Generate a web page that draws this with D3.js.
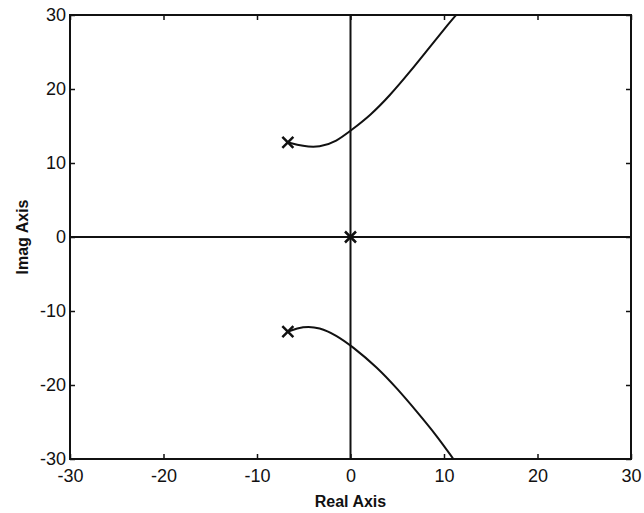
<!DOCTYPE html>
<html>
<head>
<meta charset="utf-8">
<script src="https://cdn.jsdelivr.net/npm/d3@7"></script>
<style>
  body { margin: 0; background: #fff; }
</style>
</head>
<body>
<script>
'use strict';

// axis ticks
const xTicks = [-30, -20, -10, 0, 10, 20, 30];
const yTicks = [-30, -20, -10, 0, 10, 20, 30];

// open-loop poles [re, im]
const poles = [[-6.7, 12.8], [0, 0], [-6.7, -12.8]];

// root locus branches [re, im]
const upperBranch = [
  [-6.7, 12.8], [-5.1, 12.25], [-3.3, 12.1], [-1.5, 12.9], [0.1, 14.45],
  [2.1, 16.4], [4.2, 19.1], [6.35, 22.3], [8.5, 25.7], [10.65, 29.05], [11.3, 30]
];
const lowerBranch = [
  [-6.7, -12.8], [-5.1, -12.05], [-3.3, -12.2], [-1.5, -13.3], [0.1, -14.7],
  [2.85, -17.6], [5.0, -20.5], [7.1, -23.6], [9.25, -26.9], [11.0, -30]
];

(function() {
  const width = 644, height = 513;
  const pLeft = 70, pRight = 631, pTop = 15, pBottom = 459;

  const svg = d3.select('body')
    .append('svg')
    .attr('width', width)
    .attr('height', height)
    .style('font-family', 'Arial, "Liberation Sans", sans-serif');

  const xScale = d3.scaleLinear().domain([-30, 30]).range([pLeft, pRight]);
  const yScale = d3.scaleLinear().domain([-30, 30]).range([pBottom, pTop]);

  // plain hyphen for negatives, as in the original
  const fmt = d => String(d);

  // ticks pointing inward on all four sides
  const tickLen = 5;
  svg.append('g').attr('transform', `translate(0,${pBottom})`)
    .call(d3.axisBottom(xScale).tickValues(xTicks).tickFormat(fmt).tickSizeInner(-tickLen).tickSizeOuter(0).tickPadding(10));
  svg.append('g').attr('transform', `translate(0,${pTop})`)
    .call(d3.axisTop(xScale).tickValues(xTicks).tickSizeInner(-tickLen).tickSizeOuter(0).tickFormat(''));
  svg.append('g').attr('transform', `translate(${pLeft},0)`)
    .call(d3.axisLeft(yScale).tickValues(yTicks).tickFormat(fmt).tickSizeInner(-tickLen).tickSizeOuter(0).tickPadding(4));
  svg.append('g').attr('transform', `translate(${pRight},0)`)
    .call(d3.axisRight(yScale).tickValues(yTicks).tickSizeInner(-tickLen).tickSizeOuter(0).tickFormat(''));

  svg.selectAll('.domain').remove();
  svg.selectAll('.tick line').attr('stroke', '#111').attr('stroke-width', 1.5);
  svg.selectAll('.tick text')
    .attr('fill', '#111')
    .style('font-size', '18px')
    .style('font-family', 'Arial, "Liberation Sans", sans-serif');

  // frame
  svg.append('rect')
    .attr('x', pLeft).attr('y', pTop)
    .attr('width', pRight - pLeft).attr('height', pBottom - pTop)
    .attr('fill', 'none').attr('stroke', '#111').attr('stroke-width', 2);

  // real and imaginary axis lines
  svg.append('line')
    .attr('x1', pLeft).attr('x2', pRight)
    .attr('y1', yScale(0)).attr('y2', yScale(0))
    .attr('stroke', '#111').attr('stroke-width', 2);
  svg.append('line')
    .attr('x1', xScale(0)).attr('x2', xScale(0))
    .attr('y1', pTop).attr('y2', pBottom)
    .attr('stroke', '#111').attr('stroke-width', 2);

  // locus branches
  const line = d3.line()
    .x(d => xScale(d[0]))
    .y(d => yScale(d[1]))
    .curve(d3.curveBasis);

  [upperBranch, lowerBranch].forEach(b => {
    svg.append('path')
      .datum(b)
      .attr('d', line)
      .attr('fill', 'none')
      .attr('stroke', '#111')
      .attr('stroke-width', 2);
  });

  // pole markers
  const m = 5.5;
  svg.selectAll('.pole')
    .data(poles)
    .enter()
    .append('path')
    .attr('class', 'pole')
    .attr('d', d => {
      const cx = xScale(d[0]), cy = yScale(d[1]);
      return `M${cx - m},${cy - m}L${cx + m},${cy + m}M${cx - m},${cy + m}L${cx + m},${cy - m}`;
    })
    .attr('stroke', '#111')
    .attr('stroke-width', 2.5)
    .attr('fill', 'none');

  // axis labels
  svg.append('text')
    .attr('x', (pLeft + pRight) / 2)
    .attr('y', 507)
    .attr('text-anchor', 'middle')
    .style('font-size', '16px')
    .style('font-weight', 'bold')
    .attr('fill', '#111')
    .text('Real Axis');

  svg.append('text')
    .attr('transform', `translate(28, ${(pTop + pBottom) / 2})rotate(-90)`)
    .attr('text-anchor', 'middle')
    .style('font-size', '16px')
    .style('font-weight', 'bold')
    .attr('fill', '#111')
    .text('Imag Axis');
})();
</script>
</body>
</html>
